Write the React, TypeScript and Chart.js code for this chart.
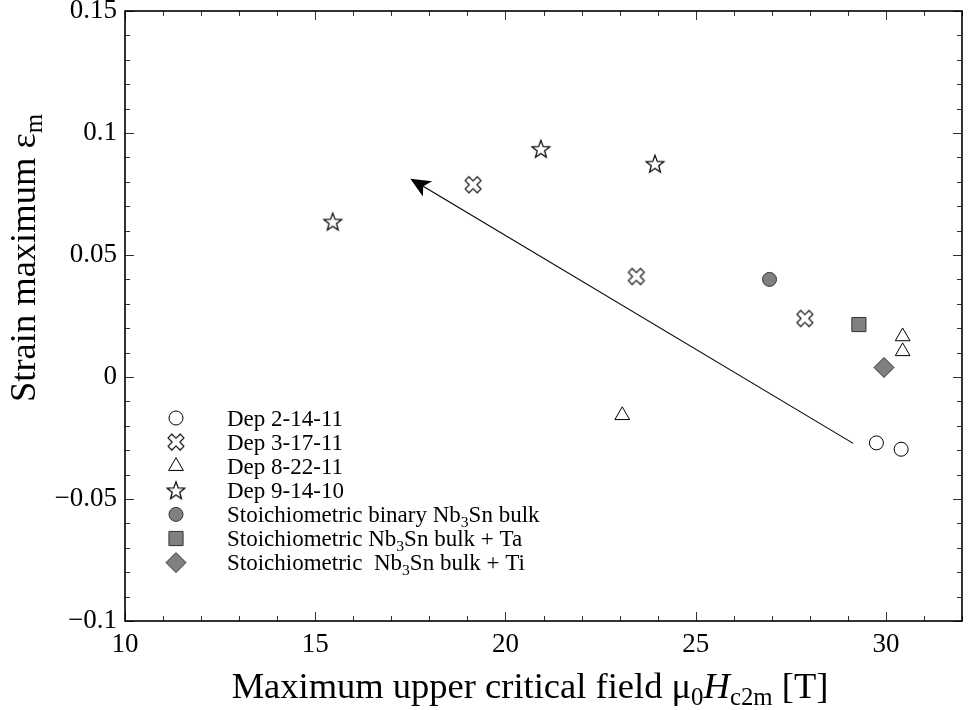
import React, { useEffect, useRef } from 'react';
import { Chart, registerables } from 'chart.js';
import { drawPoint } from 'chart.js/helpers';

Chart.register(...registerables);

const FONT = "'Liberation Serif', 'Times New Roman', serif";

// ---- data ----
const dep2X = [29.75, 30.4];
const dep2Y = [-0.027, -0.0296];
const dep3X = [19.15, 23.44, 27.87];
const dep3Y = [0.0788, 0.0412, 0.024];
const dep8X = [23.07, 30.44, 30.44];
const dep8Y = [-0.0157, 0.0166, 0.0105];
const dep9X = [15.46, 20.93, 23.93];
const dep9Y = [0.0637, 0.0935, 0.0874];
const binaryX = [26.94];
const binaryY = [0.04];
const taX = [29.29];
const taY = [0.0215];
const tiX = [29.95];
const tiY = [0.0039];

const arrowFrom = [29.14, -0.0272];
const arrowTo = [17.5, 0.0813];

const xMin = 10;
const xMax = 32;
const yMin = -0.1;
const yMax = 0.15;

type Seg = { t: string; sub?: boolean; italic?: boolean };

const legendLabels: Seg[][] = [
  [{ t: 'Dep 2-14-11' }],
  [{ t: 'Dep 3-17-11' }],
  [{ t: 'Dep 8-22-11' }],
  [{ t: 'Dep 9-14-10' }],
  [{ t: 'Stoichiometric binary Nb' }, { t: '3', sub: true }, { t: 'Sn bulk' }],
  [{ t: 'Stoichiometric Nb' }, { t: '3', sub: true }, { t: 'Sn bulk + Ta' }],
  [{ t: 'Stoichiometric  Nb' }, { t: '3', sub: true }, { t: 'Sn bulk + Ti' }],
];

const xTitle: Seg[] = [
  { t: 'Maximum upper critical field \u03bc' },
  { t: '0', sub: true },
  { t: 'H', italic: true },
  { t: 'c2m', sub: true },
  { t: ' [T]' },
];
const yTitle: Seg[] = [{ t: 'Strain maximum \u03b5' }, { t: 'm', sub: true }];

function fontFor(size: number, seg: Seg) {
  const s = seg.sub ? size * 0.68 : size;
  return `${seg.italic ? 'italic ' : ''}${s}px ${FONT}`;
}
function measureRich(ctx: CanvasRenderingContext2D, segs: Seg[], size: number) {
  let w = 0;
  for (const s of segs) {
    ctx.font = fontFor(size, s);
    w += ctx.measureText(s.t).width;
  }
  return w;
}
function drawRich(ctx: CanvasRenderingContext2D, segs: Seg[], x: number, y: number, size: number) {
  let cx = x;
  ctx.textBaseline = 'alphabetic';
  ctx.textAlign = 'left';
  for (const s of segs) {
    ctx.font = fontFor(size, s);
    ctx.fillText(s.t, cx, s.sub ? y + size * 0.2 : y);
    cx += ctx.measureText(s.t).width;
  }
}

function makeStar(): HTMLCanvasElement {
  const s = 22;
  const c = document.createElement('canvas');
  c.width = s;
  c.height = s;
  const ctx = c.getContext('2d')!;
  const cx = s / 2;
  const cy = s / 2 + 0.8;
  const R = 9.3;
  const r = 3.9;
  ctx.beginPath();
  for (let i = 0; i < 10; i++) {
    const a = -Math.PI / 2 + (i * Math.PI) / 5;
    const rad = i % 2 === 0 ? R : r;
    ctx.lineTo(cx + rad * Math.cos(a), cy + rad * Math.sin(a));
  }
  ctx.closePath();
  ctx.fillStyle = '#fff';
  ctx.fill();
  ctx.strokeStyle = '#000';
  ctx.lineWidth = 1.2;
  ctx.lineJoin = 'miter';
  ctx.stroke();
  return c;
}

function makeCross(): HTMLCanvasElement {
  const s = 24;
  const c = document.createElement('canvas');
  c.width = s;
  c.height = s;
  const ctx = c.getContext('2d')!;
  const a = 2.7;
  const L = 8.6;
  const pts = [
    [-a, -L], [a, -L], [a, -a], [L, -a], [L, a], [a, a],
    [a, L], [-a, L], [-a, a], [-L, a], [-L, -a], [-a, -a],
  ];
  const cs = Math.SQRT1_2;
  ctx.beginPath();
  for (const [px, py] of pts) {
    const rx = (px - py) * cs;
    const ry = (px + py) * cs;
    ctx.lineTo(s / 2 + rx, s / 2 + ry);
  }
  ctx.closePath();
  ctx.fillStyle = '#fff';
  ctx.fill();
  ctx.strokeStyle = '#111';
  ctx.lineWidth = 1.2;
  ctx.lineJoin = 'round';
  ctx.stroke();
  return c;
}

function pts(xs: number[], ys: number[]) {
  return xs.map((x, i) => ({ x, y: ys[i] }));
}

export default function App() {
  const ref = useRef<HTMLCanvasElement | null>(null);

  useEffect(() => {
    const canvas = ref.current;
    if (!canvas) return;
    const star = makeStar();
    const cross = makeCross();

    const markerStyles: any[] = [
      { pointStyle: 'circle', radius: 7, bg: '#fff', border: '#000' },
      { pointStyle: cross, radius: 8, bg: '#fff', border: '#000' },
      { pointStyle: 'triangle', radius: 8.5, bg: '#fff', border: '#000' },
      { pointStyle: star, radius: 8, bg: '#fff', border: '#000' },
      { pointStyle: 'circle', radius: 7, bg: '#808080', border: '#333' },
      { pointStyle: 'rect', radius: 10, bg: '#808080', border: '#333' },
      { pointStyle: 'rectRot', radius: 10, bg: '#808080', border: '#333' },
    ];
    const series = [
      pts(dep2X, dep2Y),
      pts(dep3X, dep3Y),
      pts(dep8X, dep8Y),
      pts(dep9X, dep9Y),
      pts(binaryX, binaryY),
      pts(taX, taY),
      pts(tiX, tiY),
    ];

    const framePlugin = {
      id: 'frame',
      afterDatasetsDraw(chart: any) {
        const { ctx, chartArea: a, scales } = chart;
        const xs = scales.x;
        const ys = scales.y;
        ctx.save();
        // arrow
        const x1 = xs.getPixelForValue(arrowFrom[0]);
        const y1 = ys.getPixelForValue(arrowFrom[1]);
        const x2 = xs.getPixelForValue(arrowTo[0]);
        const y2 = ys.getPixelForValue(arrowTo[1]);
        const len = Math.hypot(x2 - x1, y2 - y1);
        const ux = (x1 - x2) / len;
        const uy = (y1 - y2) / len;
        const nx = -uy;
        const ny = ux;
        ctx.strokeStyle = '#000';
        ctx.lineWidth = 1.1;
        ctx.beginPath();
        ctx.moveTo(x1, y1);
        ctx.lineTo(x2 + ux * 12, y2 + uy * 12);
        ctx.stroke();
        ctx.fillStyle = '#000';
        ctx.beginPath();
        ctx.moveTo(x2, y2);
        ctx.lineTo(x2 + ux * 20 + nx * 9, y2 + uy * 20 + ny * 9);
        ctx.lineTo(x2 + ux * 15, y2 + uy * 15);
        ctx.lineTo(x2 + ux * 20 - nx * 9, y2 + uy * 20 - ny * 9);
        ctx.closePath();
        ctx.fill();

        // ticks
        ctx.strokeStyle = '#333';
        ctx.lineWidth = 1;
        ctx.beginPath();
        for (let v = xMin; v <= xMax; v++) {
          const p = Math.round(xs.getPixelForValue(v)) + 0.5;
          const l = v % 5 === 0 ? 9 : 5;
          ctx.moveTo(p, a.bottom);
          ctx.lineTo(p, a.bottom - l);
          ctx.moveTo(p, a.top);
          ctx.lineTo(p, a.top + l);
        }
        for (let i = -10; i <= 15; i++) {
          const p = Math.round(ys.getPixelForValue(i / 100)) + 0.5;
          const l = i % 5 === 0 ? 9 : 5;
          ctx.moveTo(a.left, p);
          ctx.lineTo(a.left + l, p);
          ctx.moveTo(a.right, p);
          ctx.lineTo(a.right - l, p);
        }
        ctx.stroke();
        // frame
        ctx.strokeStyle = '#000';
        ctx.lineWidth = 1.6;
        ctx.strokeRect(a.left, a.top, a.right - a.left, a.bottom - a.top);

        // legend
        const lx = 176;
        const ly0 = 418;
        const dy = 24.1;
        legendLabels.forEach((lab, i) => {
          const m = markerStyles[i];
          const y = ly0 + i * dy;
          ctx.fillStyle = m.bg;
          ctx.strokeStyle = m.border;
          ctx.lineWidth = 1;
          drawPoint(ctx, { pointStyle: m.pointStyle, radius: m.radius, borderWidth: 1, rotation: 0 } as any, lx, y);
          ctx.fillStyle = '#000';
          drawRich(ctx, lab, 227, y + 7.5, 23);
        });

        // axis titles
        ctx.fillStyle = '#000';
        const tsize = 36.5;
        const xw = measureRich(ctx, xTitle, tsize);
        drawRich(ctx, xTitle, 530 - xw / 2, 698, tsize);
        const yw = measureRich(ctx, yTitle, tsize);
        ctx.translate(35, 258);
        ctx.rotate(-Math.PI / 2);
        drawRich(ctx, yTitle, -yw / 2, 0, tsize);
        ctx.restore();
      },
    };

    const chart = new Chart(canvas, {
      type: 'scatter',
      data: {
        datasets: series.map((d, i) => ({
          label: `s${i}`,
          data: d,
          pointStyle: markerStyles[i].pointStyle,
          pointRadius: markerStyles[i].radius,
          pointHoverRadius: markerStyles[i].radius,
          backgroundColor: markerStyles[i].bg,
          borderColor: markerStyles[i].border,
          borderWidth: 1,
          showLine: false,
        })),
      },
      options: {
        animation: false,
        responsive: false,
        devicePixelRatio: 1,
        events: [],
        layout: { padding: { left: 0, top: 10, right: 7, bottom: 0 } },
        plugins: { legend: { display: false }, tooltip: { enabled: false } },
        scales: {
          x: {
            type: 'linear',
            min: xMin,
            max: xMax,
            grid: { display: false, drawTicks: false },
            border: { display: false },
            ticks: {
              stepSize: 5,
              includeBounds: false,
              padding: 8,
              color: '#000',
              font: { family: FONT, size: 27 },
              maxRotation: 0,
              callback: (v: any) => String(v),
            },
            afterFit: (s: any) => {
              s.height = 89;
              s.paddingLeft = 0;
              s.paddingRight = 0;
            },
          },
          y: {
            type: 'linear',
            min: yMin,
            max: yMax,
            grid: { display: false, drawTicks: false },
            border: { display: false },
            ticks: {
              stepSize: 0.05,
              padding: 8,
              color: '#000',
              font: { family: FONT, size: 27 },
              callback: (v: any) => {
                const r = Math.round(Number(v) * 100) / 100;
                return String(r).replace('-', '\u2212');
              },
            },
            afterFit: (s: any) => {
              s.width = 125;
              s.paddingTop = 0;
              s.paddingBottom = 0;
            },
          },
        },
      },
      plugins: [framePlugin],
    });
    return () => chart.destroy();
  }, []);

  return (
    <div style={{ position: 'absolute', left: 0, top: 0, width: 973, height: 710, background: '#fff' }}>
      <canvas ref={ref} width={973} height={710} style={{ display: 'block' }} />
    </div>
  );
}
